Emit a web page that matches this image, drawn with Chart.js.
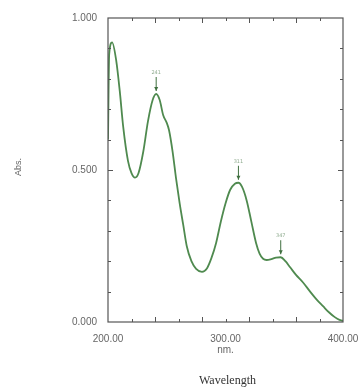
<!DOCTYPE html>
<html>
<head>
<meta charset="utf-8">
<script src="https://cdn.jsdelivr.net/npm/chart.js@4/dist/chart.umd.min.js"></script>
<style>
  html, body { margin: 0; padding: 0; background: #fff; }
  #wrap { position: relative; width: 364px; height: 390px; }
</style>
</head>
<body>
<div id="wrap"><canvas id="c" width="364" height="390"></canvas></div>
<script>
// wavelength (nm) and absorbance
const wavelength = [200, 201, 203.5, 207, 210, 213, 217, 220, 223, 226, 230, 234, 238, 241, 244, 247, 250, 252, 255, 258, 261, 264, 267, 271, 275, 280, 284, 288, 292, 296, 300, 304, 308, 311, 314, 318, 322, 326, 329, 332, 335, 339, 343, 347, 351, 355, 360, 366, 372, 378, 383, 388, 393, 397, 400];
const absorbance = [0.60, 0.88, 0.92, 0.86, 0.76, 0.64, 0.53, 0.49, 0.475, 0.49, 0.56, 0.66, 0.73, 0.75, 0.73, 0.68, 0.655, 0.63, 0.56, 0.47, 0.39, 0.32, 0.25, 0.20, 0.175, 0.165, 0.175, 0.21, 0.26, 0.33, 0.39, 0.435, 0.455, 0.458, 0.445, 0.40, 0.33, 0.26, 0.225, 0.208, 0.204, 0.207, 0.212, 0.213, 0.20, 0.18, 0.155, 0.13, 0.10, 0.072, 0.052, 0.032, 0.016, 0.007, 0.004];

// picked peaks
const peakNm = [241, 311, 347];
const peakAbs = [0.75, 0.458, 0.213];
const peakText = ['241', '311', '347'];

const xTickLabels = { 200: '200.00', 300: '300.00', 400: '400.00' };
const yTickLabels = { 0: '0.000', 0.5: '0.500', 1: '1.000' };

const points = wavelength.map((w, i) => ({ x: w, y: absorbance[i] }));

const frame = {
  id: 'frame',
  afterDraw(chart) {
    const { ctx, chartArea: a, scales: { x, y } } = chart;
    ctx.save();
    ctx.strokeStyle = '#555';
    ctx.lineWidth = 1.2;
    ctx.strokeRect(a.left, a.top, a.right - a.left, a.bottom - a.top);
    ctx.lineWidth = 1;
    for (let v = 220; v < 400; v += 20) {
      const px = Math.round(x.getPixelForValue(v)) + 0.5;
      const len = (v % 40 === 0) ? 5 : 3;
      ctx.beginPath();
      ctx.moveTo(px, a.bottom); ctx.lineTo(px, a.bottom - len);
      ctx.moveTo(px, a.top); ctx.lineTo(px, a.top + len);
      ctx.stroke();
    }
    for (let i = 1; i < 10; i++) {
      const py = Math.round(y.getPixelForValue(i / 10)) + 0.5;
      const len = (i === 5) ? 5 : 3;
      ctx.beginPath();
      ctx.moveTo(a.left, py); ctx.lineTo(a.left + len, py);
      ctx.moveTo(a.right, py); ctx.lineTo(a.right - len, py);
      ctx.stroke();
    }
    // peak arrows
    ctx.strokeStyle = '#3f6f3f';
    ctx.fillStyle = '#3f6f3f';
    ctx.font = '5px "DejaVu Sans"';
    ctx.textAlign = 'center';
    peakNm.forEach((w, i) => {
      const px = x.getPixelForValue(w);
      const py = y.getPixelForValue(peakAbs[i]) - 3;
      ctx.beginPath();
      ctx.moveTo(px, py - 14); ctx.lineTo(px, py);
      ctx.stroke();
      ctx.beginPath();
      ctx.moveTo(px - 2, py - 4); ctx.lineTo(px + 2, py - 4); ctx.lineTo(px, py);
      ctx.fill();
      ctx.fillStyle = 'rgba(63,111,63,0.6)';
      ctx.fillText(peakText[i], px, py - 17);
      ctx.fillStyle = '#3f6f3f';
    });
    // axis titles
    ctx.fillStyle = '#666';
    ctx.font = '10px "Liberation Sans"';
    ctx.fillText('nm.', (a.left + a.right) / 2, a.bottom + 31);
    ctx.fillStyle = '#333';
    ctx.font = '12px "Liberation Serif"';
    ctx.fillText('Wavelength', (a.left + a.right) / 2 + 2, a.bottom + 62);
    ctx.translate(21, 167);
    ctx.rotate(-Math.PI / 2);
    ctx.fillStyle = '#666';
    ctx.font = '9px "Liberation Sans"';
    ctx.fillText('Abs.', 0, 0);
    ctx.restore();
  }
};

new Chart(document.getElementById('c'), {
  type: 'line',
  data: {
    datasets: [{
      data: points,
      borderColor: '#4f8a4f',
      borderWidth: 1.8,
      pointRadius: 0,
      fill: false,
      cubicInterpolationMode: 'monotone'
    }]
  },
  options: {
    responsive: false,
    animation: false,
    layout: { padding: { left: 0, right: 21, top: 18, bottom: 0 } },
    plugins: { legend: { display: false }, tooltip: { enabled: false } },
    scales: {
      x: {
        type: 'linear', min: 200, max: 400,
        afterFit(s) { s.height = 68; },
        grid: { display: false },
        border: { display: false },
        ticks: {
          stepSize: 100, autoSkip: false, maxRotation: 0, padding: 3,
          color: '#666', font: { family: 'Liberation Sans', size: 10 },
          callback: v => xTickLabels[v] || ''
        }
      },
      y: {
        min: 0, max: 1,
        afterFit(s) { s.width = 108; },
        grid: { display: false },
        border: { display: false },
        ticks: {
          stepSize: 0.5, padding: 3,
          color: '#666', font: { family: 'Liberation Sans', size: 10 },
          callback: v => yTickLabels[v] || ''
        }
      }
    }
  },
  plugins: [frame]
});
</script>
</body>
</html>
